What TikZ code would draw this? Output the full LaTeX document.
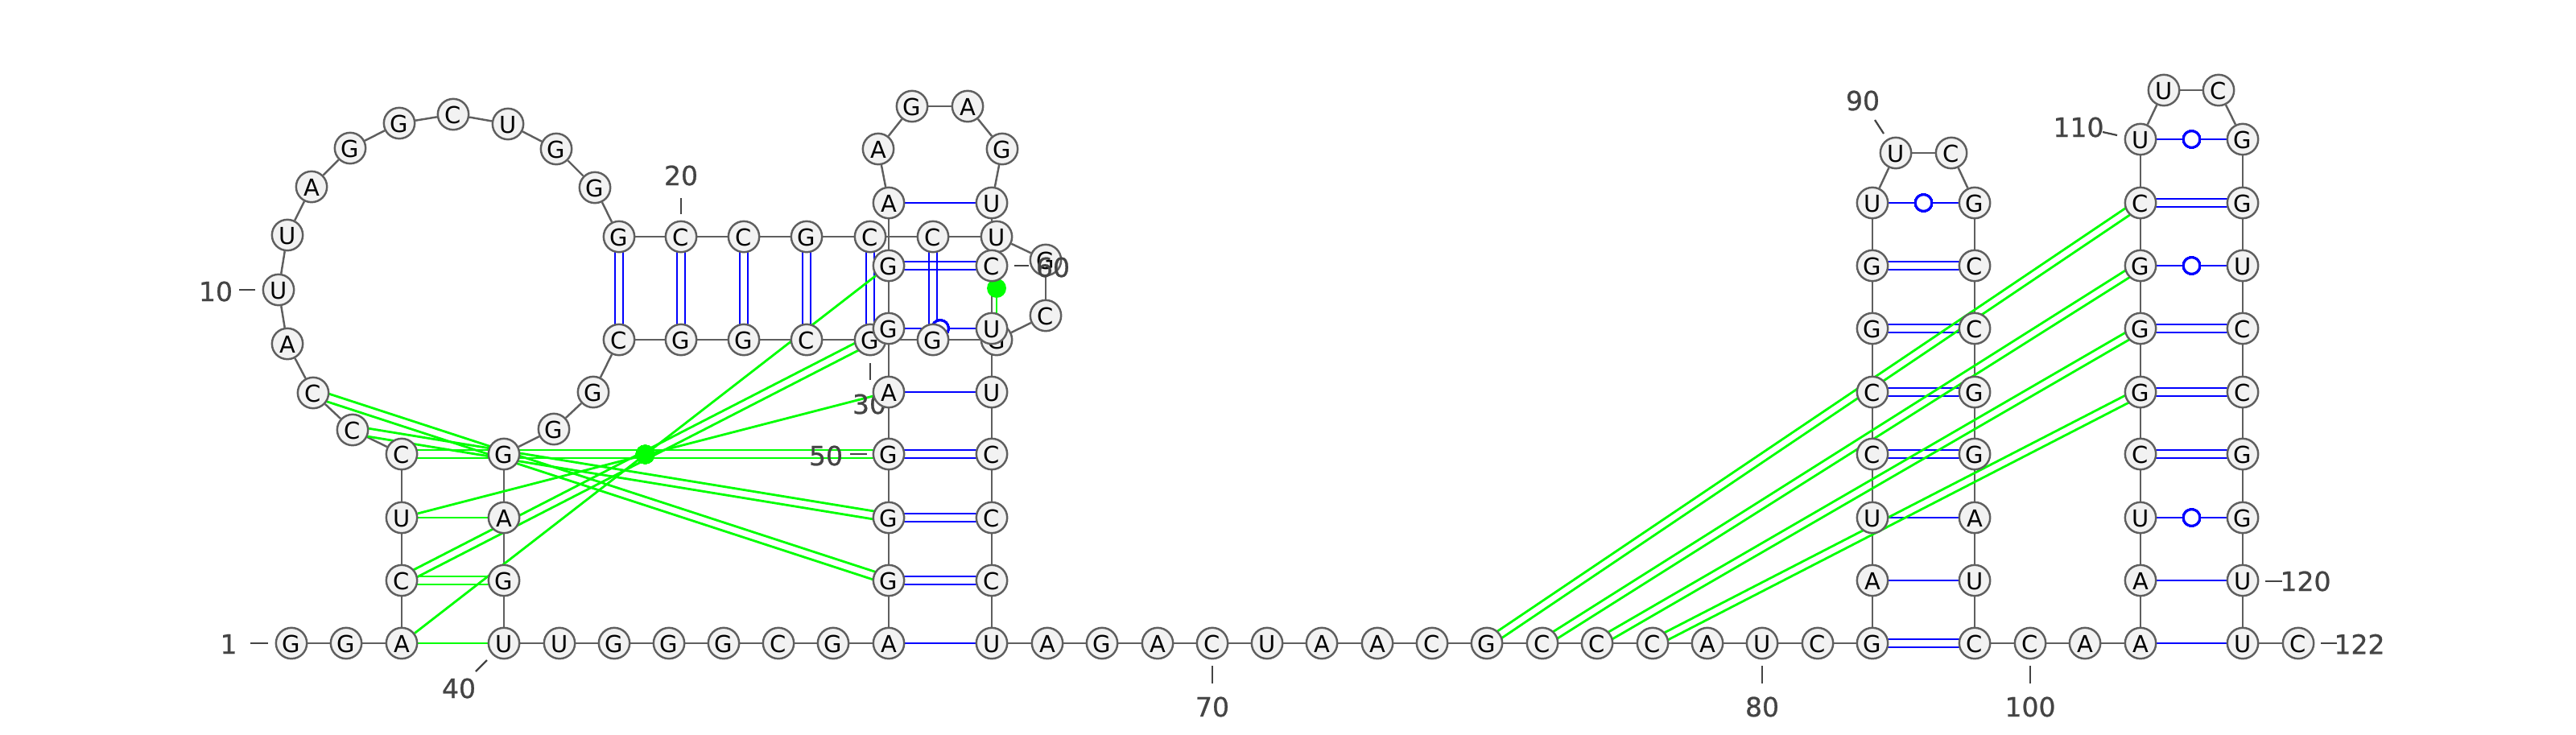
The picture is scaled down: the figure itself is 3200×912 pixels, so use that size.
\documentclass[tikz,border=0pt]{standalone}
\usepackage{xcolor}
\usepackage{fontspec}
\setmainfont{DejaVu Sans}
\newfontfamily\numfont[FakeBold=0.7]{DejaVu Sans}
\usetikzlibrary{calc,backgrounds}
\definecolor{backbonegray}{HTML}{5F5F5F}
\definecolor{numgray}{HTML}{444444}
\definecolor{nucfill}{HTML}{F2F2F2}
\definecolor{knotgreen}{rgb}{0,1,0}
\tikzset{
	nuc/.style={circle,draw=backbonegray,line width=1.75pt,fill=nucfill,minimum size=27.3pt,inner sep=0pt,
		font=\fontsize{20.6}{22}\selectfont,text height=16.8pt,text depth=0pt},
	backbone/.style={draw=backbonegray,line width=1.75pt},
	stempair/.style={draw=blue,line width=2pt},
	knotpair/.style={draw=knotgreen,line width=2pt},
	wobblering/.style={circle,draw=blue,line width=2pt,fill=white,minimum size=14.5pt,inner sep=0pt},
	knotdot/.style={circle,fill=knotgreen,minimum size=17pt,inner sep=0pt},
	numlabel/.style={text=numgray,font=\numfont\fontsize{23.5}{26}\selectfont,inner sep=0pt},
	numtick/.style={draw=numgray,line width=1.6pt}
}
\newcommand{\dblpair}[3]{%
	\draw[#1]($(#2)!3.54pt!90:(#3)$)--($(#3)!3.54pt!-90:(#2)$);
	\draw[#1]($(#2)!3.54pt!-90:(#3)$)--($(#3)!3.54pt!90:(#2)$);}
\begin{document}
\begin{tikzpicture}[x=.25mm,y=-.25mm]
	\useasboundingbox(0,0)rectangle(3200,912);
	% bases in sequence order, later ones lie on top
	\foreach \i/\x/\y/\c in {1/362/799/G,2/430/799/G,3/499/799/A,4/499/721/C,5/499/643/U,6/499/564/C,
		7/438/534/C,8/389/488/C,9/357/427/A,10/346/360/U,11/357/292/U,12/387/232/A,13/435/184/G,14/496/153/G,
		15/563/142/C,16/631/154/U,17/691/185/G,18/739/233/G,19/769/294/G,20/846/294/C,21/924/294/C,22/1002/294/G,
		23/1081/294/C,24/1159/294/C,25/1238/294/U,26/1299/323/G,27/1299/392/C,28/1238/422/G,29/1159/422/G,
		30/1081/422/G,31/1002/422/C,32/924/422/G,33/846/422/G,34/769/422/C,35/737/487/G,36/688/533/G,
		37/626/564/G,38/626/643/A,39/626/721/G,40/626/799/U,41/695/799/U,42/763/799/G,43/831/799/G,44/899/799/G,
		45/967/799/C,46/1035/799/G,47/1104/799/A,48/1104/721/G,49/1104/643/G,50/1104/564/G,51/1104/487/A,
		52/1104/408/G,53/1104/330/G,54/1104/252/A,55/1091/185/A,56/1133/132/G,57/1202/132/A,58/1245/185/G,
		59/1232/252/U,60/1232/330/C,61/1232/408/U,62/1232/487/U,63/1232/564/C,64/1232/643/C,65/1232/721/C,
		66/1232/799/U,67/1301/799/A,68/1369/799/G,69/1438/799/A,70/1506/799/C,71/1574/799/U,72/1642/799/A,
		73/1711/799/A,74/1779/799/C,75/1847/799/G,76/1916/799/C,77/1984/799/C,78/2053/799/C,79/2121/799/A,
		80/2189/799/U,81/2258/799/C,82/2326/799/G,83/2326/721/A,84/2326/643/U,85/2326/564/C,86/2326/487/C,
		87/2326/408/G,88/2326/330/G,89/2326/252/U,90/2355/190/U,91/2424/190/C,92/2453/252/G,93/2453/330/C,
		94/2453/408/C,95/2453/487/G,96/2453/564/G,97/2453/643/A,98/2453/721/U,99/2453/799/C,100/2522/799/C,
		101/2590/799/A,102/2659/799/A,103/2659/721/A,104/2659/643/U,105/2659/564/C,106/2659/487/G,107/2659/408/G,
		108/2659/330/G,109/2659/252/C,110/2659/173/U,111/2688/112/U,112/2756/112/C,113/2786/173/G,114/2786/252/G,
		115/2786/330/U,116/2786/408/C,117/2786/487/C,118/2786/564/G,119/2786/643/G,120/2786/721/U,121/2786/799/U,
		122/2855/799/C}
		\node[nuc](b\i)at(\x,\y){\c};
	% number labels and their ticks
	\foreach \n/\lx/\ly/\ax/\ay/\bx/\by in {1/284/800/311/799/333/799,10/268/362/297/360/317/360,20/846/218/846/246/846/266,
		40/570/855/605/820/591/834,50/1026/566/1056/564/1077/564,60/1308/332/1260/330/1278/330,70/1506/878/1506/827/1506/849,
		80/2189/878/2189/827/2189/849,90/2314/125/2329/149/2340/166,100/2522/878/2522/827/2522/849,
		110/2582/158/2612/164/2630/168,120/2864/722/2814/722/2835/722,122/2931/800/2883/799/2903/799}{
		\node[numlabel](n\n)at(\lx,\ly){\n};
		\coordinate(ta\n)at(\ax,\ay);
		\coordinate(tb\n)at(\bx,\by);
		\draw[numtick](ta\n)--(tb\n);
	}
	\begin{scope}[on background layer]
		% backbone
		\foreach \i [evaluate=\i as \j using int(\i+1)] in {1,...,121}
			\draw[backbone](b\i)--(b\j);
		% stems
		\foreach \a/\b in {47/66,51/62,54/59,52/61,83/98,84/97,89/92,102/121,103/120,104/119,108/115,110/113}
			\draw[stempair](b\a)--(b\b);
		\foreach \a/\b in {19/34,20/33,21/32,22/31,23/30,24/29,48/65,49/64,50/63,53/60,82/99,85/96,86/95,87/94,88/93,
			105/118,106/117,107/116,109/114}
			\dblpair{stempair}{b\a}{b\b}
		\foreach \a/\b in {52/61,89/92,104/119,108/115,110/113}
			\node[wobblering](w\a)at($(b\a)!.5!(b\b)$){};
		% knot
		\foreach \a/\b in {3/40,5/38,5/51,3/53,25/28}
			\draw[knotpair](b\a)--(b\b);
		\foreach \a/\b in {4/39,4/30,6/50,7/49,8/48,75/109,76/108,77/107,78/106}
			\dblpair{knotpair}{b\a}{b\b}
		\node[knotdot](d3)at($(b3)!.5!(b53)$){};
		\node[knotdot](d25)at($(b25)!.5!(b28)$){};
		% this one stays under base 51
		\node[numlabel](n30)at(1080,502){30};
		\coordinate(ta30)at(1081,451);
		\coordinate(tb30)at(1081,472);
		\draw[numtick](ta30)--(tb30);
	\end{scope}
\end{tikzpicture}
\end{document}
